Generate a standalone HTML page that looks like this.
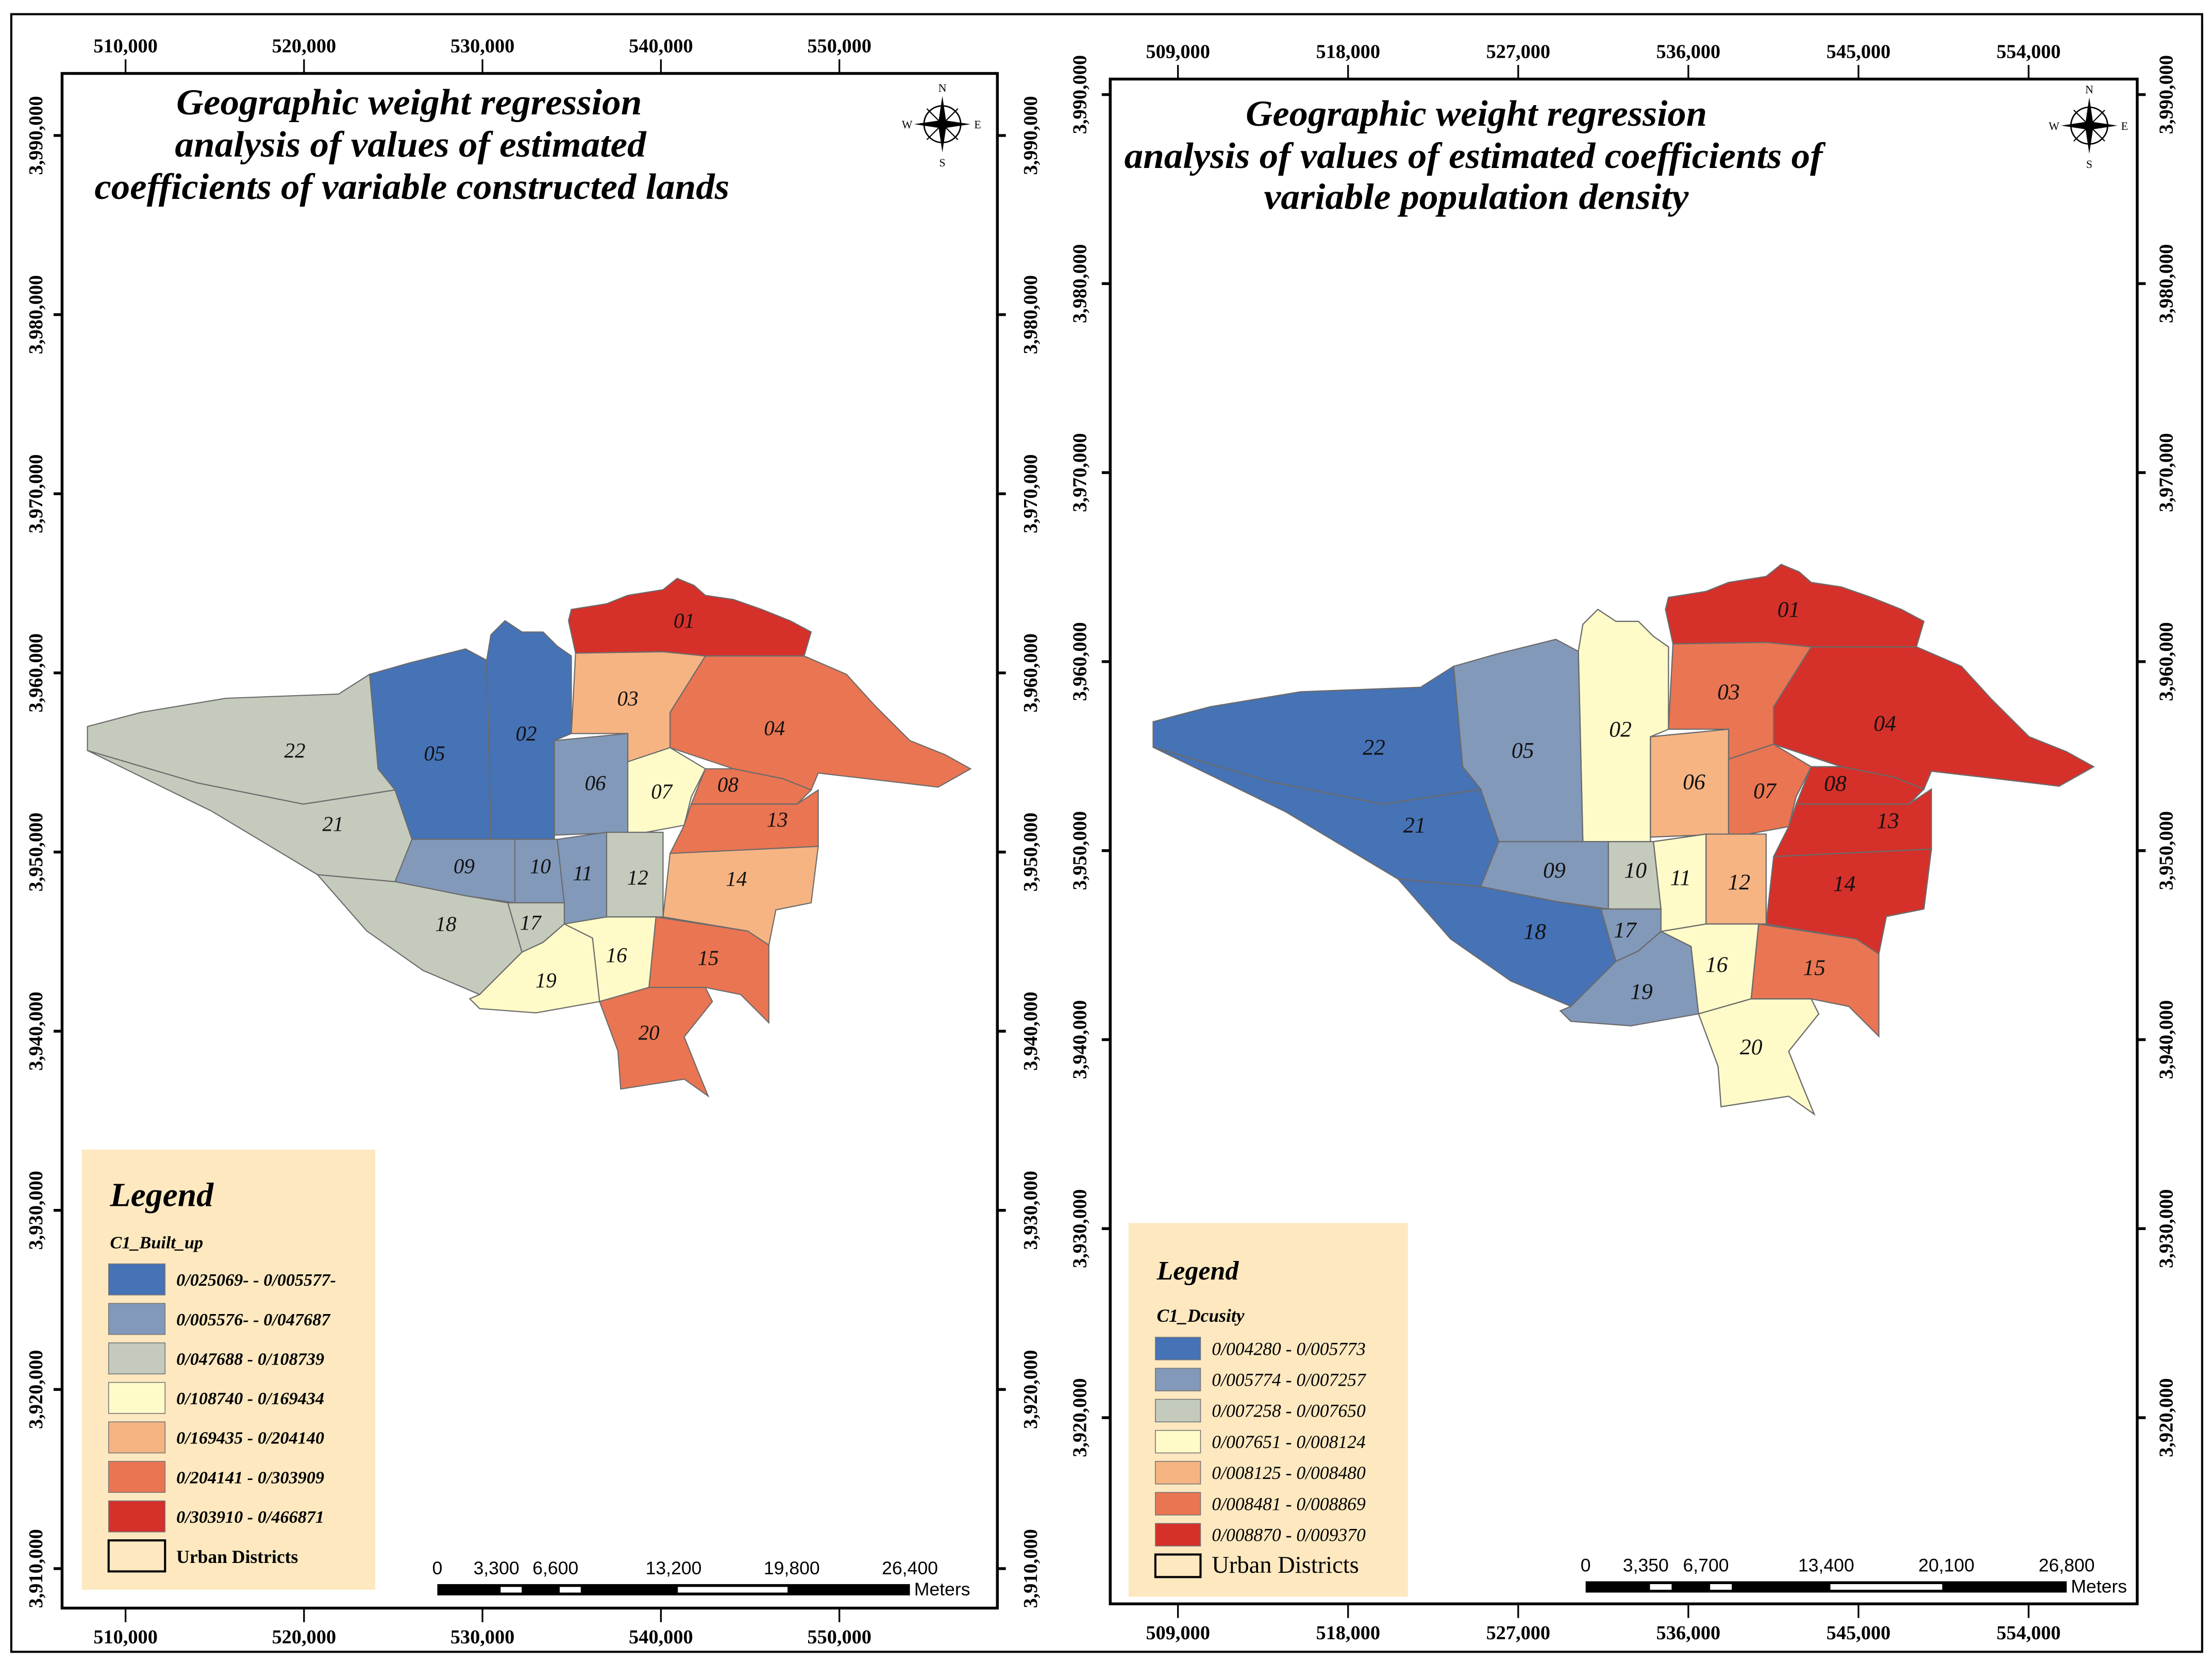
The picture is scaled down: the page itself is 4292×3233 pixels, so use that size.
<!DOCTYPE html>
<html><head><meta charset="utf-8"><style>
html,body{margin:0;padding:0;background:#fff;}
svg{display:block;}
text{font-family:"Liberation Serif",serif;}
</style></head><body>
<svg id="root" width="4292" height="3233" viewBox="0 0 1568 1181" xmlns="http://www.w3.org/2000/svg">
<rect x="0" y="0" width="1568" height="1181" fill="#fff"/>
<rect x="8" y="10" width="1553" height="1161" fill="none" stroke="#000" stroke-width="1.5"/>
<rect x="44" y="52" width="663" height="1088" fill="#fff" stroke="#000" stroke-width="2"/>
<rect x="787" y="56" width="728" height="1081" fill="#fff" stroke="#000" stroke-width="2"/>
<g id="axes"></g>
<g id="mapL"></g>
<g id="mapR" transform="translate(751.4,-35.3) scale(1.065,1.062)"></g>
<g font-size="26" font-weight="bold" font-style="italic">
<text x="125" y="81" textLength="330" lengthAdjust="spacingAndGlyphs">Geographic weight regression</text>
<text x="124" y="111" textLength="334" lengthAdjust="spacingAndGlyphs">analysis of values of estimated</text>
<text x="67" y="141" textLength="450" lengthAdjust="spacingAndGlyphs">coefficients of variable constructed lands</text>
</g>
<g font-size="26" font-weight="bold" font-style="italic">
<text x="883" y="89" textLength="327" lengthAdjust="spacingAndGlyphs">Geographic weight regression</text>
<text x="797" y="119" textLength="495" lengthAdjust="spacingAndGlyphs">analysis of values of estimated coefficients of</text>
<text x="896" y="148" textLength="301" lengthAdjust="spacingAndGlyphs">variable population density</text>
</g>
<g id="legends"></g>
<g id="scales"></g>
<g id="compasses"></g>
</svg>
<script>
const NS="http://www.w3.org/2000/svg";
function mk(tag,attrs,parent,txt){const e=document.createElementNS(NS,tag);for(const k in attrs)e.setAttribute(k,attrs[k]);if(txt!==undefined)e.textContent=txt;parent.appendChild(e);return e;}

// ---- axis data ----
const leftXTicks=["510,000","520,000","530,000","540,000","550,000"];
const leftYTicks=["3,990,000","3,980,000","3,970,000","3,960,000","3,950,000","3,940,000","3,930,000","3,920,000","3,910,000"];
const rightXTicks=["509,000","518,000","527,000","536,000","545,000","554,000"];
const rightYTicks=["3,990,000","3,980,000","3,970,000","3,960,000","3,950,000","3,940,000","3,930,000","3,920,000"];

// ---- legend data ----
const colors=["#4672b6","#8299ba","#c4cbbd","#fefbc8","#f6b483","#ea7552","#d6302a"];
const builtUpClasses=["0/025069- - 0/005577-","0/005576- - 0/047687","0/047688 - 0/108739","0/108740 - 0/169434","0/169435 - 0/204140","0/204141 - 0/303909","0/303910 - 0/466871"];
const densityClasses=["0/004280 - 0/005773","0/005774 - 0/007257","0/007258 - 0/007650","0/007651 - 0/008124","0/008125 - 0/008480","0/008481 - 0/008869","0/008870 - 0/009370"];

// ---- district class per map (index into colors) ----
const districtIds=["01","02","03","04","05","06","07","08","09","10","11","12","13","14","15","16","17","18","19","20","21","22"];
const builtUpClass=[6,0,4,5,0,1,3,5,1,1,1,2,5,4,5,3,2,2,3,5,2,2];
const densityClass=[6,3,5,6,1,4,5,6,1,2,3,4,6,6,5,3,1,0,1,3,0,0];

const shapes={
"01":"403,440 405,432 430,428 445,422 470,418 480,410 492,415 500,422 520,425 540,432 560,440 575,448 570,465 525,465 500,465 470,462 408,463",
"02":"345,468 348,450 358,440 370,448 385,448 395,458 405,465 405,520 393,525 393,595 348,595",
"03":"408,463 470,462 500,465 475,505 475,530 445,540 445,520 405,520",
"04":"500,465 570,465 600,478 620,500 645,525 670,535 688,545 665,558 640,555 580,548 575,560 555,552 520,545 475,530 475,505",
"05":"262,478 290,470 310,465 330,460 345,468 348,595 292,595 280,560 268,545",
"06":"393,525 445,520 445,590 393,592",
"07":"445,540 475,530 500,545 490,565 485,585 458,590 445,590",
"08":"500,545 520,545 555,552 575,560 565,570 490,570",
"09":"292,595 365,595 365,640 330,635 280,625",
"10":"365,595 395,595 400,640 365,640",
"11":"395,595 430,590 430,650 400,655 400,640",
"12":"430,590 470,590 470,650 430,650",
"13":"490,570 565,570 580,560 580,600 475,605 485,585",
"14":"475,605 580,600 575,640 550,645 545,670 530,660 470,650",
"15":"465,650 530,660 545,670 545,725 525,705 500,700 460,700",
"16":"400,655 430,650 465,650 460,700 425,710 420,665",
"17":"360,640 365,640 400,640 400,655 385,668 370,675",
"18":"225,620 280,625 330,635 360,640 370,675 340,705 300,688 260,660",
"19":"340,705 370,675 385,668 400,655 420,665 425,710 380,718 340,715 333,708",
"20":"425,710 460,700 500,700 505,710 485,735 495,760 502,777 485,765 440,772 438,745",
"21":"62,532 140,555 215,570 280,560 292,595 280,625 225,620 150,575",
"22":"62,515 100,505 160,495 240,492 262,478 268,545 280,560 215,570 140,555 62,532"
};
const labelPos={"01":[485,440],"02":[373,520],"03":[445,495],"04":[549,516],"05":[308,534],"06":[422,555],"07":[469,561],"08":[516,556],"09":[329,614],"10":[383,614],"11":[413,619],"12":[452,622],"13":[551,581],"14":[522,623],"15":[502,679],"16":[437,677],"17":[376,654],"18":[316,655],"19":[387,695],"20":[460,732],"21":[236,584],"22":[209,532]};

function drawMap(g,cls,suffix){
  districtIds.forEach((id,i)=>{
    const p=mk("polygon",{points:shapes[id],fill:colors[cls[i]],stroke:"#6b6b6b","stroke-width":"0.8"},g);
    
    
  });
  districtIds.forEach(id=>{
    const t=mk("text",{x:labelPos[id][0],y:labelPos[id][1]+5,"font-size":"15","font-style":"italic","text-anchor":"middle",fill:"#111"},g,id);
    
    
  });
}
drawMap(document.getElementById("mapL"),builtUpClass,"builtup");
drawMap(document.getElementById("mapR"),densityClass,"density");

// ---- axes ----
const ax=document.getElementById("axes");
function xTicks(labels,x0,dx,top,bottom){
  labels.forEach((l,i)=>{
    const x=x0+i*dx;
    mk("line",{x1:x,y1:top-10,x2:x,y2:top,stroke:"#000","stroke-width":"1.2"},ax);
    mk("line",{x1:x,y1:bottom,x2:x,y2:bottom+10,stroke:"#000","stroke-width":"1.2"},ax);
    const a=mk("text",{x:x,y:top-15,"font-size":"14","font-weight":"bold","text-anchor":"middle"},ax,l);
    
    
    const b=mk("text",{x:x,y:bottom+25,"font-size":"14","font-weight":"bold","text-anchor":"middle"},ax,l);
    
    
  });
}
function yTicks(labels,y0,dy,left,right,lx,rx){
  labels.forEach((l,i)=>{
    const y=y0+i*dy;
    mk("line",{x1:left-6,y1:y,x2:left,y2:y,stroke:"#000","stroke-width":"2"},ax);
    mk("line",{x1:right,y1:y,x2:right+6,y2:y,stroke:"#000","stroke-width":"2"},ax);
    [lx,rx].forEach(xx=>{
      const t=mk("text",{x:xx,y:y,"font-size":"14","font-weight":"bold","text-anchor":"middle",transform:"rotate(-90 "+xx+" "+y+")"},ax,l);
      
      
    });
  });
}
xTicks(leftXTicks,89,126.5,52,1140);
yTicks(leftYTicks,96,127,44,707,30,735);
xTicks(rightXTicks,835,120.6,56,1137);
yTicks(rightYTicks,67,134,787,1515,770,1540);

// ---- legends ----
const lg=document.getElementById("legends");
function legend(x,y,w,h,titleSize,fieldName,classes,sw,sh,step,labelSize,bold,udSize){
  const g=mk("g",{},lg);
  
  
  mk("rect",{x:x,y:y,width:w,height:h,fill:"#fde8c0"},g);
  mk("text",{x:x+20,y:y+40,"font-size":titleSize,"font-weight":"bold","font-style":"italic"},g,"Legend");
  mk("text",{x:x+20,y:y+70,"font-size":labelSize,"font-weight":"bold","font-style":"italic"},g,fieldName);
  classes.forEach((c,i)=>{
    const yy=y+81+i*step;
    const r=mk("rect",{x:x+19,y:yy,width:sw,height:sh,fill:colors[i],stroke:"#777","stroke-width":"0.6"},g);
    
    
    mk("text",{x:x+27+sw,y:yy+sh/2+4.5,"font-size":labelSize,"font-weight":bold?"bold":"normal","font-style":"italic"},g,c);
  });
  const yy=y+81+classes.length*step;
  mk("rect",{x:x+19,y:yy,width:sw,height:sh,fill:"#fde8c0",stroke:"#000","stroke-width":"1.5"},g);
  mk("text",{x:x+27+sw,y:yy+sh/2+5,"font-size":udSize,"font-weight":bold?"bold":"normal"},g,"Urban Districts");
}
legend(58,815,208,312,"24","C1_Built_up",builtUpClasses,40,22,28,"12.5",true,"13");
legend(800,867,198,265,"19","C1_Dcusity",densityClasses,32,16,22,"13",false,"17");

// ---- scale bars ----
const sc=document.getElementById("scales");
const scaleL=["0","3,300","6,600","13,200","19,800","26,400"];
const scaleR=["0","3,350","6,700","13,400","20,100","26,800"];
function scaleBar(x0,x1,y,labels){
  const g=mk("g",{},sc);
  
  
  const W=x1-x0, fr=[0,0.125,0.25,0.5,0.75,1];
  mk("rect",{x:x0,y:y,width:W,height:8,fill:"#000"},g);
  [[0.125,0.1875],[0.25,0.3125],[0.5,0.75]].forEach(s=>mk("rect",{x:x0+W*s[0]+3,y:y+2,width:W*(s[1]-s[0])-6,height:4,fill:"#fff"},g));
  labels.forEach((l,i)=>mk("text",{x:x0+W*fr[i],y:y-7,"font-size":"13","text-anchor":"middle",style:"font-family:'Liberation Sans',sans-serif"},g,l));
  mk("text",{x:x1+3,y:y+8,"font-size":"13",style:"font-family:'Liberation Sans',sans-serif"},g,"Meters");
}
scaleBar(310,645,1123,scaleL);
scaleBar(1124,1465,1121,scaleR);

// ---- compasses ----
const cp=document.getElementById("compasses");
function compass(cx,cy){
  const g=mk("g",{},cp);
  
  
  mk("circle",{cx:cx,cy:cy,r:13,fill:"none",stroke:"#000","stroke-width":"1"},g);
  mk("polygon",{points:`${cx},${cy-20} ${cx+3},${cy} ${cx},${cy+20} ${cx-3},${cy}`,fill:"#000"},g);
  mk("polygon",{points:`${cx-20},${cy} ${cx},${cy-3} ${cx+20},${cy} ${cx},${cy+3}`,fill:"#000"},g);
  mk("line",{x1:cx-11,y1:cy-11,x2:cx+11,y2:cy+11,stroke:"#000","stroke-width":"0.8"},g);
  mk("line",{x1:cx+11,y1:cy-11,x2:cx-11,y2:cy+11,stroke:"#000","stroke-width":"0.8"},g);
  mk("text",{x:cx,y:cy-23,"font-size":"8","text-anchor":"middle"},g,"N");
  mk("text",{x:cx,y:cy+30,"font-size":"8","text-anchor":"middle"},g,"S");
  mk("text",{x:cx-25,y:cy+3,"font-size":"8","text-anchor":"middle"},g,"W");
  mk("text",{x:cx+25,y:cy+3,"font-size":"8","text-anchor":"middle"},g,"E");
}
compass(668,88);
compass(1481,89);
</script>
</body></html>
